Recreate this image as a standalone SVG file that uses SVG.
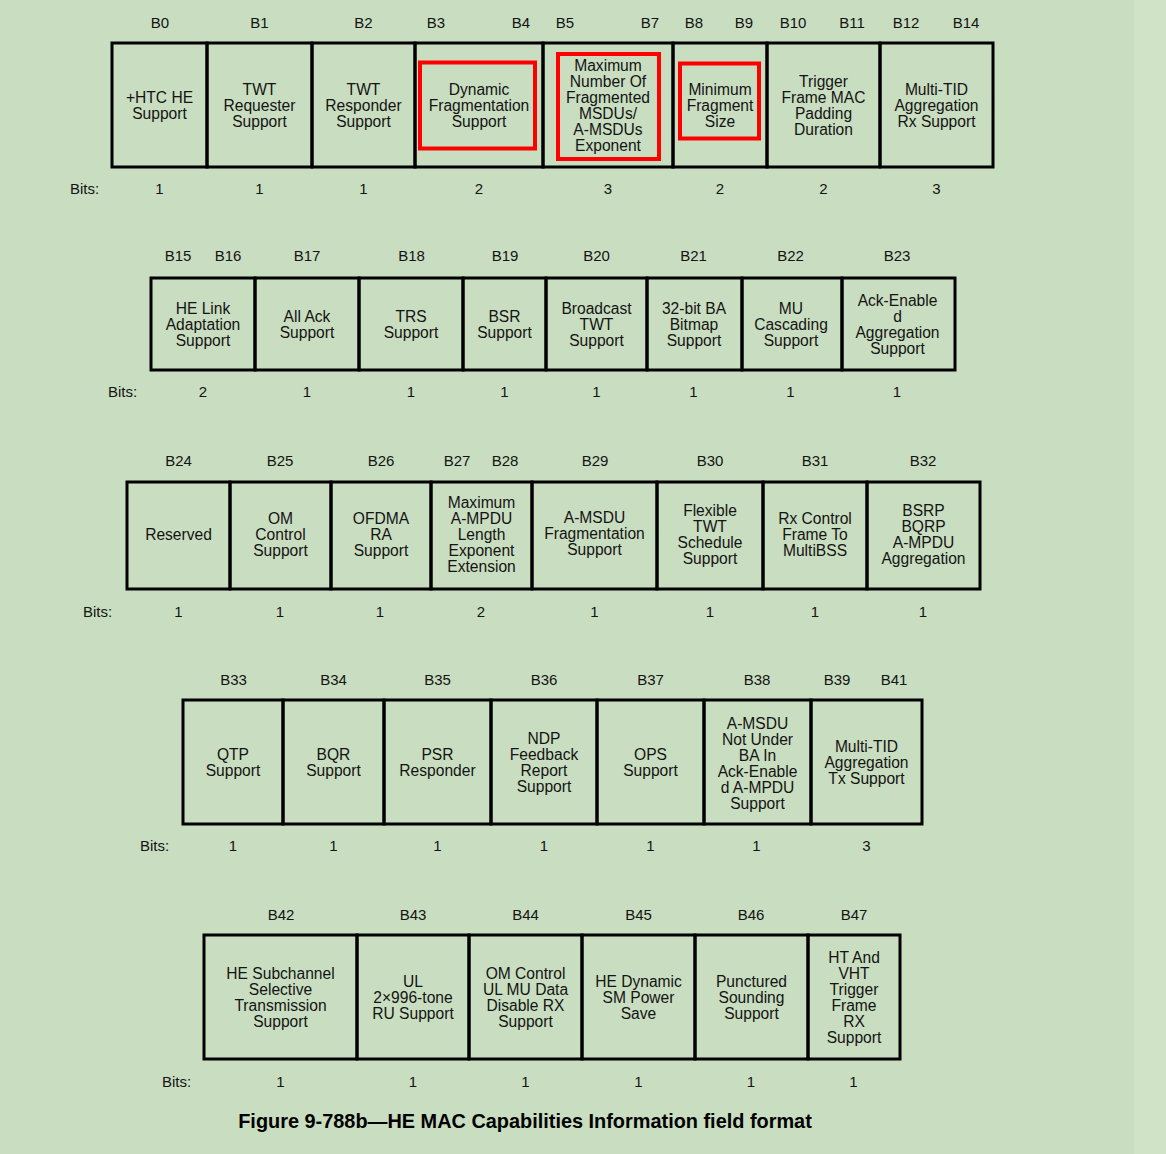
<svg xmlns="http://www.w3.org/2000/svg" width="1166" height="1154" viewBox="0 0 1166 1154">
<style>
.cell{fill:none;stroke:#000;stroke-width:3}
.hl{fill:none;stroke:#ff0000;stroke-width:4}
text{font-family:"Liberation Sans",Arial,sans-serif;fill:#141414;text-anchor:middle}
.t{font-size:15.6px}
.l{font-size:15px}
.b{font-size:15px;text-anchor:start}
.cap{font-size:19.9px;font-weight:bold;fill:#000}
</style>
<rect x="0" y="0" width="1166" height="1154" fill="#c9ddc0"/>
<rect x="1134" y="0" width="32" height="1154" fill="#d1e3c6"/>

<g id="row1">
<g class="l-head"><text class="l" x="160" y="27.5">B0</text><text class="l" x="259.5" y="27.5">B1</text><text class="l" x="363.5" y="27.5">B2</text><text class="l" x="436" y="27.5">B3</text><text class="l" x="521" y="27.5">B4</text><text class="l" x="565" y="27.5">B5</text><text class="l" x="650" y="27.5">B7</text><text class="l" x="694" y="27.5">B8</text><text class="l" x="744" y="27.5">B9</text><text class="l" x="793" y="27.5">B10</text><text class="l" x="852" y="27.5">B11</text><text class="l" x="906" y="27.5">B12</text><text class="l" x="966" y="27.5">B14</text></g>
<g id="f-htc"><rect class="cell" x="112" y="43" width="95" height="124"/><text class="t" y="102.5"><tspan x="159.5">+HTC HE</tspan><tspan x="159.5" dy="16">Support</tspan></text><text class="l" x="159.5" y="193.5">1</text></g>
<g id="f-twtreq"><rect class="cell" x="207" y="43" width="105" height="124"/><text class="t" y="94.5"><tspan x="259.5">TWT</tspan><tspan x="259.5" dy="16">Requester</tspan><tspan x="259.5" dy="16">Support</tspan></text><text class="l" x="259.5" y="193.5">1</text></g>
<g id="f-twtresp"><rect class="cell" x="312" y="43" width="103" height="124"/><text class="t" y="94.5"><tspan x="363.5">TWT</tspan><tspan x="363.5" dy="16">Responder</tspan><tspan x="363.5" dy="16">Support</tspan></text><text class="l" x="363.5" y="193.5">1</text></g>
<g id="f-dynfrag"><rect class="cell" x="415" y="43" width="128" height="124"/><rect class="hl" x="420" y="62.5" width="115" height="86"/><text class="t" y="94.5"><tspan x="479">Dynamic</tspan><tspan x="479" dy="16">Fragmentation</tspan><tspan x="479" dy="16">Support</tspan></text><text class="l" x="479" y="193.5">2</text></g>
<g id="f-maxfrag"><rect class="cell" x="543" y="43" width="130" height="124"/><rect class="hl" x="558" y="54" width="101" height="105"/><text class="t" y="70.5"><tspan x="608">Maximum</tspan><tspan x="608" dy="16">Number Of</tspan><tspan x="608" dy="16">Fragmented</tspan><tspan x="608" dy="16">MSDUs/</tspan><tspan x="608" dy="16">A-MSDUs</tspan><tspan x="608" dy="16">Exponent</tspan></text><text class="l" x="608" y="193.5">3</text></g>
<g id="f-minfrag"><rect class="cell" x="673" y="43" width="94" height="124"/><rect class="hl" x="680" y="63.5" width="79" height="75"/><text class="t" y="94.5"><tspan x="720">Minimum</tspan><tspan x="720" dy="16">Fragment</tspan><tspan x="720" dy="16">Size</tspan></text><text class="l" x="720" y="193.5">2</text></g>
<g id="f-trigpad"><rect class="cell" x="767" y="43" width="113" height="124"/><text class="t" y="86.5"><tspan x="823.5">Trigger</tspan><tspan x="823.5" dy="16">Frame MAC</tspan><tspan x="823.5" dy="16">Padding</tspan><tspan x="823.5" dy="16">Duration</tspan></text><text class="l" x="823.5" y="193.5">2</text></g>
<g id="f-mtidrx"><rect class="cell" x="880" y="43" width="113" height="124"/><text class="t" y="94.5"><tspan x="936.5">Multi-TID</tspan><tspan x="936.5" dy="16">Aggregation</tspan><tspan x="936.5" dy="16">Rx Support</tspan></text><text class="l" x="936.5" y="193.5">3</text></g>
<text class="b" x="70" y="193.5">Bits:</text>
</g>

<g id="row2">
<text class="l" x="178" y="261">B15</text><text class="l" x="228" y="261">B16</text><text class="l" x="307" y="261">B17</text><text class="l" x="411.5" y="261">B18</text><text class="l" x="505" y="261">B19</text><text class="l" x="596.5" y="261">B20</text><text class="l" x="693.5" y="261">B21</text><text class="l" x="790.5" y="261">B22</text><text class="l" x="897" y="261">B23</text>
<g id="f-helink"><rect class="cell" x="151" y="278" width="104" height="92"/><text class="t" y="313.5"><tspan x="203">HE Link</tspan><tspan x="203" dy="16">Adaptation</tspan><tspan x="203" dy="16">Support</tspan></text><text class="l" x="203" y="397">2</text></g>
<g id="f-allack"><rect class="cell" x="255" y="278" width="104" height="92"/><text class="t" y="321.5"><tspan x="307">All Ack</tspan><tspan x="307" dy="16">Support</tspan></text><text class="l" x="307" y="397">1</text></g>
<g id="f-trs"><rect class="cell" x="359" y="278" width="104" height="92"/><text class="t" y="321.5"><tspan x="411">TRS</tspan><tspan x="411" dy="16">Support</tspan></text><text class="l" x="411" y="397">1</text></g>
<g id="f-bsr"><rect class="cell" x="463" y="278" width="83" height="92"/><text class="t" y="321.5"><tspan x="504.5">BSR</tspan><tspan x="504.5" dy="16">Support</tspan></text><text class="l" x="504.5" y="397">1</text></g>
<g id="f-bctwt"><rect class="cell" x="546" y="278" width="101" height="92"/><text class="t" y="313.5"><tspan x="596.5">Broadcast</tspan><tspan x="596.5" dy="16">TWT</tspan><tspan x="596.5" dy="16">Support</tspan></text><text class="l" x="596.5" y="397">1</text></g>
<g id="f-ba32"><rect class="cell" x="647" y="278" width="95" height="92"/><text class="t" y="313.5"><tspan x="694">32-bit BA</tspan><tspan x="694" dy="16">Bitmap</tspan><tspan x="694" dy="16">Support</tspan></text><text class="l" x="693.5" y="397">1</text></g>
<g id="f-mucasc"><rect class="cell" x="742" y="278" width="100" height="92"/><text class="t" y="313.5"><tspan x="791">MU</tspan><tspan x="791" dy="16">Cascading</tspan><tspan x="791" dy="16">Support</tspan></text><text class="l" x="790.5" y="397">1</text></g>
<g id="f-ackagg"><rect class="cell" x="842" y="278" width="113" height="92"/><text class="t" y="305.5"><tspan x="897.5">Ack-Enable</tspan><tspan x="897.5" dy="16">d</tspan><tspan x="897.5" dy="16">Aggregation</tspan><tspan x="897.5" dy="16">Support</tspan></text><text class="l" x="897" y="397">1</text></g>
<text class="b" x="108" y="397">Bits:</text>
</g>

<g id="row3">
<text class="l" x="178.5" y="465.5">B24</text><text class="l" x="280" y="465.5">B25</text><text class="l" x="381" y="465.5">B26</text><text class="l" x="457" y="465.5">B27</text><text class="l" x="505" y="465.5">B28</text><text class="l" x="595" y="465.5">B29</text><text class="l" x="710" y="465.5">B30</text><text class="l" x="815" y="465.5">B31</text><text class="l" x="923" y="465.5">B32</text>
<g id="f-res"><rect class="cell" x="127" y="482" width="103" height="107"/><text class="t" x="178.5" y="540">Reserved</text><text class="l" x="178.5" y="617">1</text></g>
<g id="f-omctl"><rect class="cell" x="230" y="482" width="101" height="107"/><text class="t" y="524"><tspan x="280.5">OM</tspan><tspan x="280.5" dy="16">Control</tspan><tspan x="280.5" dy="16">Support</tspan></text><text class="l" x="280" y="617">1</text></g>
<g id="f-ofdmara"><rect class="cell" x="331" y="482" width="100" height="107"/><text class="t" y="524"><tspan x="381">OFDMA</tspan><tspan x="381" dy="16">RA</tspan><tspan x="381" dy="16">Support</tspan></text><text class="l" x="380" y="617">1</text></g>
<g id="f-maxampdu"><rect class="cell" x="431" y="482" width="101" height="107"/><text class="t" y="508"><tspan x="481.5">Maximum</tspan><tspan x="481.5" dy="16">A-MPDU</tspan><tspan x="481.5" dy="16">Length</tspan><tspan x="481.5" dy="16">Exponent</tspan><tspan x="481.5" dy="16">Extension</tspan></text><text class="l" x="481" y="617">2</text></g>
<g id="f-amsdufrag"><rect class="cell" x="532" y="482" width="125" height="107"/><text class="t" y="522.5"><tspan x="594.5">A-MSDU</tspan><tspan x="594.5" dy="16">Fragmentation</tspan><tspan x="594.5" dy="16">Support</tspan></text><text class="l" x="594.5" y="617">1</text></g>
<g id="f-flextwt"><rect class="cell" x="657" y="482" width="106" height="107"/><text class="t" y="516"><tspan x="710">Flexible</tspan><tspan x="710" dy="16">TWT</tspan><tspan x="710" dy="16">Schedule</tspan><tspan x="710" dy="16">Support</tspan></text><text class="l" x="710" y="617">1</text></g>
<g id="f-rxctl"><rect class="cell" x="763" y="482" width="104" height="107"/><text class="t" y="524"><tspan x="815">Rx Control</tspan><tspan x="815" dy="16">Frame To</tspan><tspan x="815" dy="16">MultiBSS</tspan></text><text class="l" x="815" y="617">1</text></g>
<g id="f-bsrp"><rect class="cell" x="867" y="482" width="113" height="107"/><text class="t" y="516"><tspan x="923.5">BSRP</tspan><tspan x="923.5" dy="16">BQRP</tspan><tspan x="923.5" dy="16">A-MPDU</tspan><tspan x="923.5" dy="16">Aggregation</tspan></text><text class="l" x="923" y="617">1</text></g>
<text class="b" x="83" y="617">Bits:</text>
</g>

<g id="row4">
<text class="l" x="233.5" y="684.5">B33</text><text class="l" x="333.5" y="684.5">B34</text><text class="l" x="437.5" y="684.5">B35</text><text class="l" x="544" y="684.5">B36</text><text class="l" x="650.5" y="684.5">B37</text><text class="l" x="757" y="684.5">B38</text><text class="l" x="837" y="684.5">B39</text><text class="l" x="894" y="684.5">B41</text>
<g id="f-qtp"><rect class="cell" x="183" y="700" width="100" height="124"/><text class="t" y="759.5"><tspan x="233">QTP</tspan><tspan x="233" dy="16">Support</tspan></text><text class="l" x="233" y="850.5">1</text></g>
<g id="f-bqr"><rect class="cell" x="283" y="700" width="101" height="124"/><text class="t" y="759.5"><tspan x="333.5">BQR</tspan><tspan x="333.5" dy="16">Support</tspan></text><text class="l" x="333.5" y="850.5">1</text></g>
<g id="f-psr"><rect class="cell" x="384" y="700" width="107" height="124"/><text class="t" y="759.5"><tspan x="437.5">PSR</tspan><tspan x="437.5" dy="16">Responder</tspan></text><text class="l" x="437.5" y="850.5">1</text></g>
<g id="f-ndp"><rect class="cell" x="491" y="700" width="106" height="124"/><text class="t" y="743.5"><tspan x="544">NDP</tspan><tspan x="544" dy="16">Feedback</tspan><tspan x="544" dy="16">Report</tspan><tspan x="544" dy="16">Support</tspan></text><text class="l" x="544" y="850.5">1</text></g>
<g id="f-ops"><rect class="cell" x="597" y="700" width="107" height="124"/><text class="t" y="759.5"><tspan x="650.5">OPS</tspan><tspan x="650.5" dy="16">Support</tspan></text><text class="l" x="650.5" y="850.5">1</text></g>
<g id="f-amsdunotba"><rect class="cell" x="704" y="700" width="107" height="124"/><text class="t" y="728.5"><tspan x="757.5">A-MSDU</tspan><tspan x="757.5" dy="16">Not Under</tspan><tspan x="757.5" dy="16">BA In</tspan><tspan x="757.5" dy="16">Ack-Enable</tspan><tspan x="757.5" dy="16">d A-MPDU</tspan><tspan x="757.5" dy="16">Support</tspan></text><text class="l" x="756.5" y="850.5">1</text></g>
<g id="f-mtidtx"><rect class="cell" x="811" y="700" width="111" height="124"/><text class="t" y="751.5"><tspan x="866.5">Multi-TID</tspan><tspan x="866.5" dy="16">Aggregation</tspan><tspan x="866.5" dy="16">Tx Support</tspan></text><text class="l" x="866.5" y="850.5">3</text></g>
<text class="b" x="140" y="850.5">Bits:</text>
</g>

<g id="row5">
<text class="l" x="281" y="919.5">B42</text><text class="l" x="413" y="919.5">B43</text><text class="l" x="525.5" y="919.5">B44</text><text class="l" x="638.5" y="919.5">B45</text><text class="l" x="751" y="919.5">B46</text><text class="l" x="854" y="919.5">B47</text>
<g id="f-hesub"><rect class="cell" x="204" y="935" width="153" height="124"/><text class="t" y="978.5"><tspan x="280.5">HE Subchannel</tspan><tspan x="280.5" dy="16">Selective</tspan><tspan x="280.5" dy="16">Transmission</tspan><tspan x="280.5" dy="16">Support</tspan></text><text class="l" x="280.5" y="1087">1</text></g>
<g id="f-ul2x996"><rect class="cell" x="357" y="935" width="112" height="124"/><text class="t" y="986.5"><tspan x="413">UL</tspan><tspan x="413" dy="16">2×996-tone</tspan><tspan x="413" dy="16">RU Support</tspan></text><text class="l" x="413" y="1087">1</text></g>
<g id="f-omulmu"><rect class="cell" x="469" y="935" width="113" height="124"/><text class="t" y="978.5"><tspan x="525.5">OM Control</tspan><tspan x="525.5" dy="16">UL MU Data</tspan><tspan x="525.5" dy="16">Disable RX</tspan><tspan x="525.5" dy="16">Support</tspan></text><text class="l" x="525.5" y="1087">1</text></g>
<g id="f-hedynsm"><rect class="cell" x="582" y="935" width="113" height="124"/><text class="t" y="986.5"><tspan x="638.5">HE Dynamic</tspan><tspan x="638.5" dy="16">SM Power</tspan><tspan x="638.5" dy="16">Save</tspan></text><text class="l" x="638.5" y="1087">1</text></g>
<g id="f-punct"><rect class="cell" x="695" y="935" width="113" height="124"/><text class="t" y="986.5"><tspan x="751.5">Punctured</tspan><tspan x="751.5" dy="16">Sounding</tspan><tspan x="751.5" dy="16">Support</tspan></text><text class="l" x="751" y="1087">1</text></g>
<g id="f-htvht"><rect class="cell" x="808" y="935" width="92" height="124"/><text class="t" y="962.5"><tspan x="854">HT And</tspan><tspan x="854" dy="16">VHT</tspan><tspan x="854" dy="16">Trigger</tspan><tspan x="854" dy="16">Frame</tspan><tspan x="854" dy="16">RX</tspan><tspan x="854" dy="16">Support</tspan></text><text class="l" x="853.5" y="1087">1</text></g>
<text class="b" x="162" y="1087">Bits:</text>
</g>

<g id="connectors"></g>

<text class="cap" x="525" y="1128">Figure 9-788b—HE MAC Capabilities Information field format</text>
</svg>
